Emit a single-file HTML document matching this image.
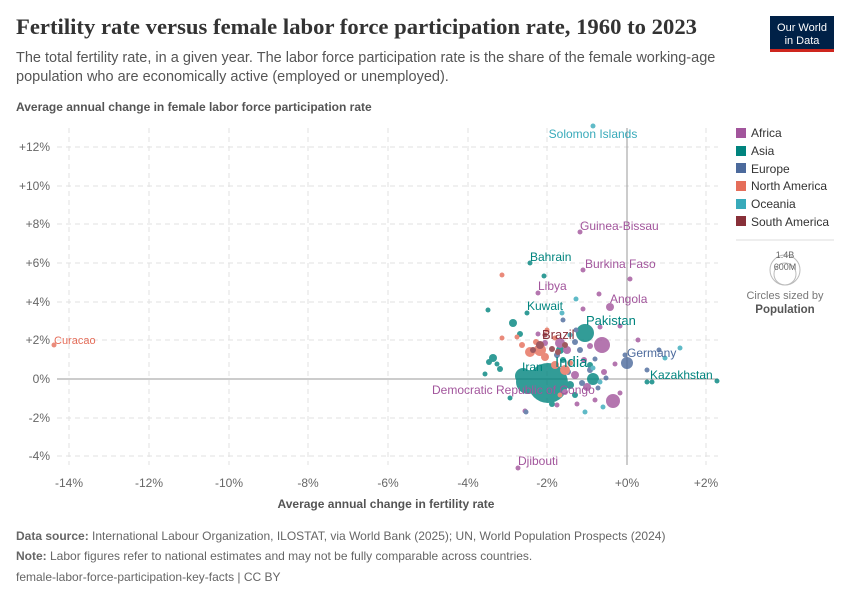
<!DOCTYPE html>
<html><head><meta charset="utf-8"><style>
body{margin:0;background:#fff;width:850px;height:600px;overflow:hidden;font-family:"Liberation Sans",sans-serif;}
svg text{font-family:"Liberation Sans",sans-serif;}
</style></head><body>
<svg width="850" height="600" xmlns="http://www.w3.org/2000/svg">
<text x="16" y="34" font-size="22" font-weight="bold" fill="#333" textLength="681" lengthAdjust="spacingAndGlyphs" style="font-family:'Liberation Serif',serif">Fertility rate versus female labor force participation rate, 1960 to 2023</text>
<text x="16" y="62" font-size="14.5" fill="#555">The total fertility rate, in a given year. The labor force participation rate is the share of the female working-age</text>
<text x="16" y="81" font-size="14.5" fill="#555">population who are economically active (employed or unemployed).</text>
<rect x="770" y="16" width="64" height="36" fill="#002147"/>
<rect x="770" y="49" width="64" height="3" fill="#ce261e"/>
<text x="802" y="31" font-size="11" fill="#fff" text-anchor="middle">Our World</text>
<text x="802" y="44" font-size="11" fill="#fff" text-anchor="middle">in Data</text>
<text x="16" y="111" font-size="12" font-weight="bold" fill="#555">Average annual change in female labor force participation rate</text>
<g stroke="#e2e2e2" stroke-dasharray="5,4" stroke-width="1">
<line x1="69" y1="128" x2="69" y2="465"/><line x1="149" y1="128" x2="149" y2="465"/><line x1="229" y1="128" x2="229" y2="465"/><line x1="308" y1="128" x2="308" y2="465"/><line x1="388" y1="128" x2="388" y2="465"/><line x1="468" y1="128" x2="468" y2="465"/><line x1="547" y1="128" x2="547" y2="465"/><line x1="706" y1="128" x2="706" y2="465"/>
<line x1="57" y1="147" x2="718" y2="147"/><line x1="57" y1="186" x2="718" y2="186"/><line x1="57" y1="224" x2="718" y2="224"/><line x1="57" y1="263" x2="718" y2="263"/><line x1="57" y1="302" x2="718" y2="302"/><line x1="57" y1="340" x2="718" y2="340"/><line x1="57" y1="418" x2="718" y2="418"/><line x1="57" y1="456" x2="718" y2="456"/>
</g>
<line x1="627" y1="128" x2="627" y2="465" stroke="#999"/>
<line x1="57" y1="379" x2="718" y2="379" stroke="#999"/>
<g font-size="12" fill="#666" text-anchor="end">
<text x="50" y="151">+12%</text><text x="50" y="190">+10%</text><text x="50" y="228">+8%</text><text x="50" y="267">+6%</text><text x="50" y="306">+4%</text><text x="50" y="344">+2%</text><text x="50" y="383">0%</text><text x="50" y="422">-2%</text><text x="50" y="460">-4%</text>
</g>
<g font-size="12" fill="#666" text-anchor="middle">
<text x="69" y="487">-14%</text><text x="149" y="487">-12%</text><text x="229" y="487">-10%</text><text x="308" y="487">-8%</text><text x="388" y="487">-6%</text><text x="468" y="487">-4%</text><text x="547" y="487">-2%</text><text x="627" y="487">+0%</text><text x="706" y="487">+2%</text>
</g>
<text x="386" y="508" font-size="12" font-weight="bold" fill="#555" text-anchor="middle">Average annual change in fertility rate</text>
<g opacity="0.8">
<g fill="#00847e">
<circle cx="548" cy="383" r="20"/><circle cx="528" cy="382" r="12"/><circle cx="585" cy="333" r="9"/><circle cx="523" cy="376" r="8"/><circle cx="530" cy="263" r="2.5"/><circle cx="544" cy="276" r="2.5"/><circle cx="527" cy="313" r="2.5"/><circle cx="488" cy="310" r="2.5"/><circle cx="513" cy="323" r="4"/><circle cx="493" cy="358" r="4"/><circle cx="489" cy="362" r="3"/><circle cx="500" cy="369" r="3"/><circle cx="485" cy="374" r="2.5"/><circle cx="497" cy="364" r="2.5"/><circle cx="717" cy="381" r="2.5"/><circle cx="652" cy="382" r="2.5"/><circle cx="647" cy="382" r="2.5"/><circle cx="593" cy="379" r="6"/><circle cx="570" cy="385" r="4"/><circle cx="552" cy="404" r="3"/><circle cx="510" cy="398" r="2.5"/><circle cx="520" cy="334" r="3"/><circle cx="560" cy="350" r="4"/><circle cx="575" cy="395" r="3"/><circle cx="563" cy="360" r="3"/><circle cx="590" cy="365" r="3"/>
</g>
<g fill="#a2559c">
<circle cx="602" cy="345" r="8"/><circle cx="613" cy="401" r="7"/><circle cx="610" cy="307" r="4"/><circle cx="583" cy="270" r="2.5"/><circle cx="630" cy="279" r="2.5"/><circle cx="538" cy="293" r="2.5"/><circle cx="599" cy="294" r="2.5"/><circle cx="580" cy="232" r="2.5"/><circle cx="518" cy="468" r="2.5"/><circle cx="538" cy="334" r="2.5"/><circle cx="560" cy="343" r="5"/><circle cx="567" cy="350" r="4"/><circle cx="587" cy="387" r="4"/><circle cx="575" cy="375" r="4"/><circle cx="590" cy="346" r="3"/><circle cx="638" cy="340" r="2.5"/><circle cx="615" cy="364" r="2.5"/><circle cx="595" cy="400" r="2.5"/><circle cx="577" cy="404" r="2.5"/><circle cx="620" cy="393" r="2.5"/><circle cx="604" cy="372" r="3"/><circle cx="584" cy="360" r="3"/><circle cx="600" cy="327" r="2.5"/><circle cx="620" cy="326" r="2.5"/><circle cx="565" cy="392" r="3"/><circle cx="557" cy="405" r="2.5"/><circle cx="525" cy="411" r="2.5"/><circle cx="545" cy="343" r="3"/><circle cx="583" cy="309" r="2.5"/>
</g>
<g fill="#4c6a9c">
<circle cx="627" cy="363" r="6"/><circle cx="659" cy="350" r="2.5"/><circle cx="647" cy="370" r="2.5"/><circle cx="625" cy="355" r="2.5"/><circle cx="606" cy="378" r="2.5"/><circle cx="580" cy="350" r="3"/><circle cx="575" cy="342" r="3"/><circle cx="590" cy="370" r="3"/><circle cx="582" cy="383" r="3"/><circle cx="568" cy="372" r="3"/><circle cx="557" cy="355" r="3"/><circle cx="526" cy="412" r="2.5"/><circle cx="598" cy="388" r="2.5"/><circle cx="563" cy="320" r="2.5"/><circle cx="576" cy="330" r="2.5"/><circle cx="595" cy="359" r="2.5"/>
</g>
<g fill="#e56e5a">
<circle cx="502" cy="275" r="2.5"/><circle cx="502" cy="338" r="2.5"/><circle cx="540" cy="350" r="6"/><circle cx="530" cy="352" r="5"/><circle cx="545" cy="357" r="4"/><circle cx="522" cy="345" r="3"/><circle cx="555" cy="365" r="4"/><circle cx="565" cy="370" r="5"/><circle cx="517" cy="337" r="2.5"/><circle cx="547" cy="330" r="2.5"/><circle cx="555" cy="338" r="2.5"/><circle cx="560" cy="395" r="2.5"/><circle cx="570" cy="363" r="3"/><circle cx="54" cy="345" r="2.5"/><circle cx="536" cy="342" r="3"/>
</g>
<g fill="#38aaba">
<circle cx="593" cy="126" r="2.5"/><circle cx="576" cy="299" r="2.5"/><circle cx="562" cy="313" r="2.5"/><circle cx="680" cy="348" r="2.5"/><circle cx="665" cy="358" r="2.5"/><circle cx="585" cy="412" r="2.5"/><circle cx="603" cy="407" r="2.5"/><circle cx="593" cy="368" r="2.5"/><circle cx="570" cy="335" r="2.5"/><circle cx="600" cy="382" r="2.5"/>
</g>
<g fill="#883039">
<circle cx="540" cy="345" r="4"/><circle cx="552" cy="349" r="3"/><circle cx="545" cy="335" r="2.5"/><circle cx="565" cy="345" r="3"/><circle cx="533" cy="350" r="3"/><circle cx="558" cy="352" r="3"/>
</g>
</g>
<g font-size="12">
<text x="593" y="138" fill="#38aaba" text-anchor="middle">Solomon Islands</text>
<text x="580" y="230" fill="#a2559c">Guinea-Bissau</text>
<text x="530" y="261" fill="#00847e">Bahrain</text>
<text x="585" y="268" fill="#a2559c">Burkina Faso</text>
<text x="538" y="290" fill="#a2559c">Libya</text>
<text x="610" y="303" fill="#a2559c">Angola</text>
<text x="527" y="310" fill="#00847e">Kuwait</text>
<text x="586" y="325" fill="#00847e" font-size="13">Pakistan</text>
<text x="542" y="339" fill="#883039" font-size="13">Brazil</text>
<text x="627" y="357" fill="#4c6a9c">Germany</text>
<text x="555" y="367" fill="#00847e" font-size="15">India</text>
<text x="522" y="371" fill="#00847e">Iran</text>
<text x="650" y="379" fill="#00847e">Kazakhstan</text>
<text x="432" y="394" fill="#a2559c">Democratic Republic of Congo</text>
<text x="518" y="465" fill="#a2559c">Djibouti</text>
<text x="54" y="344" fill="#e56e5a" font-size="11">Curacao</text>
</g>
<g font-size="12" fill="#333">
<rect x="736" y="128" width="10" height="10" fill="#a2559c"/><text x="751" y="137">Africa</text>
<rect x="736" y="146" width="10" height="10" fill="#00847e"/><text x="751" y="155">Asia</text>
<rect x="736" y="163" width="10" height="10" fill="#4c6a9c"/><text x="751" y="173">Europe</text>
<rect x="736" y="181" width="10" height="10" fill="#e56e5a"/><text x="751" y="190">North America</text>
<rect x="736" y="199" width="10" height="10" fill="#38aaba"/><text x="751" y="208">Oceania</text>
<rect x="736" y="216" width="10" height="10" fill="#883039"/><text x="751" y="226">South America</text>
</g>
<line x1="736" y1="240" x2="834" y2="240" stroke="#ddd"/>
<circle cx="785" cy="270" r="15" fill="none" stroke="#bbb"/>
<circle cx="785" cy="274" r="11" fill="none" stroke="#bbb"/>
<text x="785" y="258" font-size="9" fill="#666" text-anchor="middle">1.4B</text>
<text x="785" y="270" font-size="9" fill="#666" text-anchor="middle">600M</text>
<text x="785" y="299" font-size="11" fill="#777" text-anchor="middle">Circles sized by</text>
<text x="785" y="313" font-size="11.5" font-weight="bold" fill="#555" text-anchor="middle">Population</text>
<text x="16" y="540" font-size="12" fill="#666"><tspan font-weight="bold">Data source:</tspan> International Labour Organization, ILOSTAT, via World Bank (2025); UN, World Population Prospects (2024)</text>
<text x="16" y="560" font-size="12" fill="#666"><tspan font-weight="bold">Note:</tspan> Labor figures refer to national estimates and may not be fully comparable across countries.</text>
<text x="16" y="581" font-size="12" fill="#666">female-labor-force-participation-key-facts | CC BY</text>
</svg>
</body></html>
